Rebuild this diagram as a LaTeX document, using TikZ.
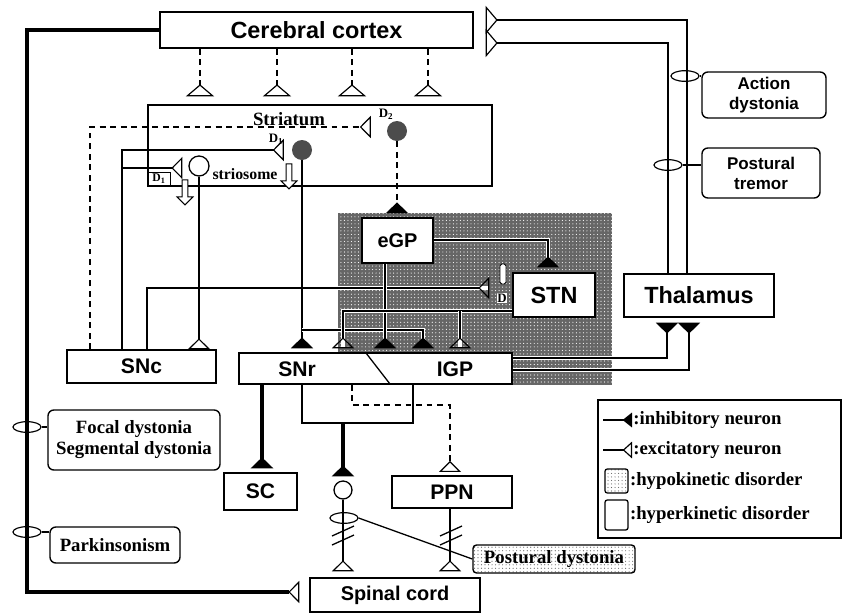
\documentclass[tikz,border=0pt]{standalone}
\usepackage{fontspec}
\setmainfont{Liberation Sans}
\newfontfamily\labelserif{Liberation Serif}
\usetikzlibrary{arrows.meta,shapes.geometric,shapes.arrows,patterns}
\newcommand{\fsz}[2]{\fontsize{#1}{#2}\selectfont}

\begin{document}
\begin{tikzpicture}[
        x=0.3mm, y=-0.3mm,
        box/.style={
            draw=black,
            line width=1.2pt,
            fill=white,
            inner sep=0pt,
            font=\bfseries\fsz{18}{20}
        },
        tag_box/.style={
            draw=black,
            rounded corners=5pt,
            line width=1.2pt,
            fill=white,
            inner sep=0pt,
            align=center,
            font=\bfseries\fsz{14.5}{17}
        },
        lbl_serif/.style={font=\labelserif\bfseries\fsz{16}{18}, inner sep=1pt},
        small_lbl/.style={font=\labelserif\bfseries\fsz{11}{12}, inner sep=0pt},
        plain_line/.style={draw=black, line width=1.1pt},
        mid_line/.style={draw=black, line width=2.2pt},
        heavy_line/.style={draw=black, line width=3pt},
        dash_line/.style={draw=black, line width=1.1pt, dash pattern=on 5pt off 4pt},
        in_texture/.style={preaction={draw=white, line width=3.6pt, -}},
        exc_tip/.style={-{Triangle[reversed, open, length=3.3mm, width=6.6mm, line width=1pt]}},
        exc_tip_wide/.style={-{Triangle[reversed, open, length=3.6mm, width=8.4mm, line width=1pt]}},
        inh_tip/.style={-{Triangle[reversed, length=3.3mm, width=6.6mm]}},
        cell_open/.style={circle, draw=black, line width=1.1pt, fill=white, minimum size=6mm, inner sep=0pt},
        cell_filled/.style={circle, fill=black!70, minimum size=6mm, inner sep=0pt},
        ring/.style={ellipse, draw=black, line width=1pt, minimum width=8.4mm, minimum height=3.2mm, inner sep=0pt},
        hollow_arrow/.style={single arrow, draw=black, fill=white, line width=0.8pt,
            shape border rotate=270, minimum height=7.5mm, minimum width=4.8mm,
            single arrow head extend=1.2mm, inner sep=0.5mm}
    ]
        \useasboundingbox (0,0) rectangle (843,614);

        % hypokinetic area
        \fill[black!60] (338,213) rectangle (612,385);
        \fill[pattern=dots, pattern color=white] (338,213) rectangle (612,385);

        % Nuclei
        \node[box, minimum width=93.9mm, minimum height=10.8mm, font=\bfseries\fsz{20}{22}] (cortex) at (316.5,30) {Cerebral cortex};
        \node[box, minimum width=103.2mm, minimum height=24.3mm] (striatum) at (320,145.5) {};
        \node[box, minimum width=45mm, minimum height=12.9mm, font=\bfseries\fsz{20}{22}] (thal) at (699,295.5) {Thalamus};
        \node[box, minimum width=24.6mm, minimum height=13.2mm, font=\bfseries\fsz{20}{22}] (stn) at (554,295) {STN};
        \node[box, minimum width=21.3mm, minimum height=13.5mm, font=\bfseries\fsz{17}{19}] (egp) at (397.5,240.5) {eGP};
        \node[box, minimum width=44.7mm, minimum height=9.9mm] (snc) at (141.5,366.5) {SNc};
        \node[box, minimum width=81.9mm, minimum height=9.3mm] (snr) at (375.5,368.5) {};
        \node[font=\bfseries\fsz{18}{20}] (snr_txt) at (297,369) {SNr};
        \node[font=\bfseries\fsz{18}{20}] (igp_txt) at (455,369) {IGP};
        \draw[plain_line] (366,353) -- (390,384);
        \node[box, minimum width=21.9mm, minimum height=11.1mm] (sc) at (260.5,491.5) {SC};
        \node[box, minimum width=36mm, minimum height=9.6mm] (ppn) at (452,492) {PPN};
        \node[box, minimum width=51mm, minimum height=10.2mm, font=\bfseries\fsz{17}{19}] (spinal) at (395,595) {Spinal cord};

        % Symptoms
        \node[tag_box, minimum width=37.2mm, minimum height=13.8mm] (actdys) at (764,95) {Action\\dystonia};
        \node[tag_box, minimum width=35.4mm, minimum height=15mm] (tremor) at (761,173) {Postural\\tremor};
        \node[tag_box, minimum width=51.6mm, minimum height=18mm, font=\labelserif\bfseries\fsz{16}{18}] (focal) at (134,440) {Focal dystonia\\Segmental dystonia};
        \node[tag_box, minimum width=39mm, minimum height=10.8mm, font=\labelserif\bfseries\fsz{16}{18}] (parkin) at (115,545) {Parkinsonism};
        \node[tag_box, rounded corners=3pt, preaction={fill=white}, pattern=dots, pattern color=black!60,
              minimum width=48.6mm, minimum height=8.4mm, font=\labelserif\bfseries\fsz{16}{18}] (postdys) at (554,559) {Postural dystonia};

        % Striatal cells
        \node[lbl_serif] (striatum_txt) at (289,119) {Striatum};
        \node[cell_filled] (d2cell) at (397,131) {};
        \node[cell_filled] (d1cell) at (302,150) {};
        \node[cell_open] (strio) at (199,166) {};
        \node[lbl_serif, font=\labelserif\bfseries\fsz{13.5}{15}] (strio_txt) at (245,174) {striosome};
        \node[small_lbl] (d2_lbl) at (386,114) {D\textsubscript{2}};
        \node[small_lbl] (d1_lbl) at (276,139) {D\textsubscript{1}};
        \node[draw=black, line width=0.8pt, minimum width=6.6mm, minimum height=4.2mm, inner sep=0pt,
              font=\labelserif\bfseries\fsz{10}{11}] (d1_box) at (159,179) {D\textsubscript{1}};
        \node[cell_open, minimum size=5.4mm] (rs_cell) at (343,490) {};

        % Rings
        \node[ring] (ring_act) at (685,76) {};
        \node[ring] (ring_trem) at (668,165) {};
        \node[ring] (ring_focal) at (27,427) {};
        \node[ring] (ring_park) at (27,532) {};
        \node[ring] (ring_post) at (344,518) {};

        % Routing points
        \coordinate (cs_a) at (27,30);
        \coordinate (cs_b) at (27,592);
        \coordinate (tc_out) at (687,20);
        \coordinate (tc_in) at (668,43);
        \coordinate (gt_a) at (667,358);
        \coordinate (gt_b) at (689,370);
        \coordinate (ds_a) at (147,288);
        \coordinate (d2_a) at (90,127);
        \coordinate (d1_a) at (122,150);
        \coordinate (d1_b) at (122,168);
        \coordinate (dp_a) at (302,330);
        \coordinate (dp_b) at (423,330);
        \coordinate (es_a) at (548,240);
        \coordinate (eg_a) at (385,0);
        \coordinate (st_a) at (343,311);
        \coordinate (st_b) at (460,311);
        \coordinate (sc_a) at (262,0);
        \coordinate (lp_a) at (302,423);
        \coordinate (lp_b) at (413,423);
        \coordinate (lp_c) at (343,423);
        \coordinate (pp_a) at (352,405);
        \coordinate (pp_b) at (450,405);

        % Cortical output
        \foreach \kx in {200,277,352,428} {
            \coordinate (ctx_pin) at (\kx,0);
            \draw[dash_line, exc_tip_wide, shorten >=2.4mm] (cortex.south -| ctx_pin) -- (striatum.north -| ctx_pin);
        }
        \draw[heavy_line, exc_tip, shorten >=3mm] (cortex.west) -- (cs_a) -- (cs_b) -- (spinal.west |- cs_b);

        % Thalamo-cortical
        \draw[mid_line, exc_tip_wide, shorten >=3.6mm] (thal.north -| tc_out) -- (tc_out) -- (cortex.east |- tc_out);
        \draw[mid_line, exc_tip_wide, shorten >=3.6mm] (thal.north -| tc_in) -- (tc_in) -- (cortex.east |- tc_in);

        % Nigrostriatal
        \draw[dash_line, exc_tip, shorten >=4.8mm] (snc.north -| d2_a) -- (d2_a) -- (d2cell.west |- d2_a);
        \draw[plain_line, exc_tip, shorten >=2.4mm] (snc.north -| d1_a) -- (d1_a) -- (d1cell.west);
        \draw[plain_line, exc_tip, shorten >=1.8mm] (d1_b) -- (strio.west |- d1_b);
        \draw[plain_line, in_texture, exc_tip, shorten >=6.9mm] (snc.north -| ds_a) -- (ds_a) -- (stn.west |- ds_a);

        % Striatal output
        \draw[plain_line, exc_tip] (strio.south) -- (snc.north -| strio);
        \draw[dash_line, inh_tip, shorten >=1.2mm] (d2cell.south) -- (egp.north -| d2cell);
        \draw[plain_line, inh_tip, shorten >=1.2mm] (d1cell.south) -- (snr.north -| d1cell);
        \draw[plain_line, in_texture, inh_tip, shorten >=1.2mm] (dp_a) -- (dp_b) -- (snr.north -| dp_b);

        % Pallidal and subthalamic
        \draw[plain_line, in_texture, inh_tip, shorten >=1.5mm] (egp.east |- es_a) -- (es_a) -- (stn.north -| es_a);
        \draw[plain_line, in_texture, inh_tip, shorten >=1.2mm] (egp.south -| eg_a) -- (snr.north -| eg_a);
        \draw[plain_line, in_texture, exc_tip, shorten >=1.2mm] (stn.west |- st_a) -- (st_a) -- (snr.north -| st_a);
        \draw[plain_line, in_texture, exc_tip, shorten >=1.2mm] (st_b) -- (snr.north -| st_b);
        \draw[plain_line, in_texture, inh_tip, shorten >=1.5mm] (snr.east |- gt_a) -- (gt_a) -- (thal.south -| gt_a);
        \draw[plain_line, in_texture, inh_tip, shorten >=1.5mm] (snr.east |- gt_b) -- (gt_b) -- (thal.south -| gt_b);

        % Nigral output
        \draw[heavy_line, inh_tip, shorten >=1.2mm] (snr.south -| sc_a) -- (sc.north -| sc_a);
        \draw[mid_line] (snr.south -| lp_a) -- (lp_a) -- (lp_b) -- (snr.south -| lp_b);
        \draw[heavy_line, inh_tip, shorten >=1.2mm] (lp_c) -- (rs_cell.north);
        \draw[plain_line, exc_tip, shorten >=1.8mm] (rs_cell.south) -- (spinal.north -| rs_cell);
        \draw[dash_line, exc_tip, shorten >=1mm] (snr.south -| pp_a) -- (pp_a) -- (pp_b) -- (ppn.north -| pp_b);
        \draw[plain_line, exc_tip, shorten >=1.8mm] (ppn.south -| pp_b) -- (spinal.north -| pp_b);
        \foreach \sx in {343,451} {
            \draw[plain_line] (\sx-11,536) -- (\sx+11,526);
            \draw[plain_line] (\sx-11,545) -- (\sx+11,535);
        }

        % D marks
        \node[small_lbl, fill=white, inner sep=0.4pt] (d_stn) at (502,298) {D};
        \node[draw=black, fill=white, rounded corners=1.5pt, line width=0.8pt, minimum width=1.8mm,
              minimum height=6mm, inner sep=0pt] (d_cap) at (503,274) {};
        \node[hollow_arrow] (d1_arrow) at (289,175) {};
        \node[hollow_arrow] (strio_arrow) at (185,191) {};

        % Symptom links
        \draw[plain_line] (ring_act.east) -- (actdys.west |- ring_act);
        \draw[plain_line] (ring_trem.east) -- (tremor.west |- ring_trem);
        \draw[plain_line] (ring_focal.east) -- (focal.west |- ring_focal);
        \draw[plain_line] (ring_park.east) -- (parkin.west |- ring_park);
        \draw[plain_line] (ring_post.east) -- (postdys.west);

        % Legend
        \node[draw=black, line width=1.2pt, minimum width=72.9mm, minimum height=41.4mm] (legend) at (719.5,469) {};
        \coordinate (lg_inh) at (603,420);
        \coordinate (lg_exc) at (603,450);
        \node[lbl_serif, anchor=west] (lg_inh_txt) at (632,420) {:inhibitory neuron};
        \node[lbl_serif, anchor=west] (lg_exc_txt) at (632,450) {:excitatory neuron};
        \draw[plain_line, -{Triangle[reversed, length=2.8mm, width=4.4mm]}] (lg_inh) -- (lg_inh_txt.west);
        \draw[plain_line, -{Triangle[reversed, open, length=2.8mm, width=5mm, line width=1pt]}] (lg_exc) -- (lg_exc_txt.west);
        \node[draw=black, rounded corners=2pt, line width=1.1pt, preaction={fill=white}, pattern=dots,
              pattern color=black!60, minimum width=6.9mm, minimum height=7.2mm] (lg_hypo) at (616.5,481) {};
        \node[draw=black, rounded corners=2pt, line width=1.1pt, minimum width=6.9mm, minimum height=9mm] (lg_hyper) at (616.5,515) {};
        \node[lbl_serif, anchor=west] (lg_hypo_txt) at (lg_hypo.east) {:hypokinetic disorder};
        \node[lbl_serif, anchor=west] (lg_hyper_txt) at (lg_hyper.east) {:hyperkinetic disorder};
    \end{tikzpicture}
\end{document}
